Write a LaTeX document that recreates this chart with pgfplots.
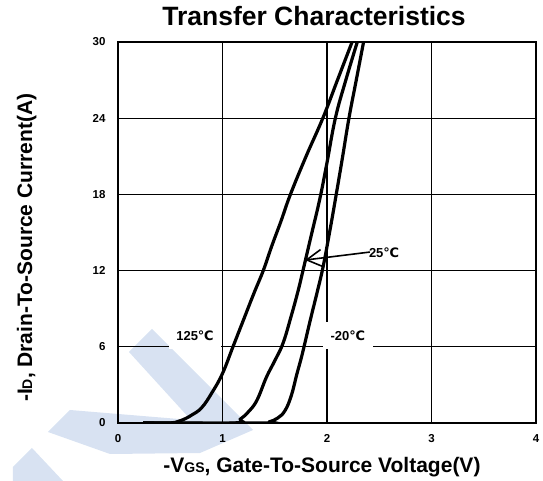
\documentclass[border=0pt]{standalone}
\usepackage{pgfplots}
\pgfplotsset{compat=1.18}
\usepackage{fontspec}
\setmainfont{Liberation Sans}
\newfontfamily\dejavu{DejaVu Sans}
\usetikzlibrary{arrows.meta}
\definecolor{wm}{RGB}{216,226,242}
\newcommand{\degC}{{\dejavu\bfseries ℃}}

\begin{document}
\begin{tikzpicture}
\useasboundingbox (-118pt,-58pt) rectangle (425pt,423pt);
% watermark (decoration)
\begin{scope}[x=1pt,y=1pt,shift={(-118pt,423pt)},yscale=-1]
\fill[wm] (70,410) -- (191,420) -- (129,352) -- (152,329) -- (253,430) -- (200,453) -- (110,454) -- (48,432) -- cycle;
\fill[wm] (32,448) -- (63,481) -- (13,481) -- (13,467) -- cycle;
\end{scope}
\begin{axis}[
  at={(0,0)}, anchor=south west,
  scale only axis, width=418pt, height=381pt,
  xmin=0, xmax=4, ymin=0, ymax=30,
  xtick={0,1,2,3,4}, ytick={0,6,12,18,24,30},
  grid=major,
  major grid style={black, line width=1.2pt},
  axis line style={black, line width=1.8pt},
  major tick length=0pt,
  /pgf/number format/assume math mode=true,
  ticklabel style={font=\fontsize{11.5}{13}\selectfont\bfseries},
  yticklabel style={xshift=-9pt},
  xticklabel style={yshift=-8pt},
  title={Transfer Characteristics},
  title style={font=\fontsize{26.5}{30}\selectfont\bfseries, at={(axis description cs:0.469,1)}, anchor=base, yshift=10pt, inner sep=0pt},
  xlabel={-V{\fontsize{14}{14}\selectfont GS}, Gate-To-Source Voltage(V)},
  xlabel style={font=\fontsize{21}{24}\selectfont\bfseries, at={(axis description cs:0.488,0)}, anchor=base, yshift=-50pt, inner sep=0pt},
  ylabel={-I{\fontsize{14}{14}\selectfont D}, Drain-To-Source Current(A)},
  ylabel style={font=\fontsize{21}{24}\selectfont\bfseries, at={(axis description cs:-0.2057,0.46)}, anchor=base, inner sep=0pt},
]
% 125 C
\addplot[black, line width=3.2pt, smooth, tension=0.7] coordinates {
(0.24,0) (0.45,0) (0.55,0.05) (0.62,0.25) (0.7,0.6) (0.8,1.2) (0.9,2.4) (1.0,3.9) (1.1,6.0) (1.2,8.1) (1.3,10.2) (1.39,12) (1.47,13.9) (1.56,15.9) (1.65,18) (1.8,21) (1.96,24) (2.1,27) (2.24,30)
};
% 25 C
\addplot[black, line width=3.2pt, smooth, tension=0.7] coordinates {
(0.24,0) (1.10,0) (1.17,0.3) (1.25,0.9) (1.33,1.8) (1.42,3.6) (1.5,4.9) (1.58,6.3) (1.66,8.5) (1.72,10.3) (1.77,12) (1.85,14.8) (1.93,17.6) (2.0,20.5) (2.08,24) (2.18,27) (2.29,30)
};
% -20 C
\addplot[black, line width=3.2pt, smooth, tension=0.7] coordinates {
(0.24,0) (1.38,0) (1.45,0.1) (1.53,0.4) (1.6,1.0) (1.66,2.2) (1.71,3.8) (1.75,5.0) (1.78,6.0) (1.84,8.1) (1.90,10.1) (1.96,12.2) (2.02,14.8) (2.08,17.6) (2.15,21) (2.21,24) (2.28,27) (2.35,30)
};
\node[fill=white, minimum width=52pt, minimum height=27pt, inner sep=0pt, font=\fontsize{13}{15}\selectfont\bfseries] at (axis cs:0.737,6.9) {125\degC};
\node[fill=white, minimum width=50pt, minimum height=27pt, inner sep=0pt, font=\fontsize{13}{15}\selectfont\bfseries] at (axis cs:2.20,6.9) {-20\degC};
\node[font=\fontsize{13}{15}\selectfont\bfseries, anchor=west, inner sep=0pt] at (axis cs:2.40,13.4) {25\degC};
\draw[line width=1.6pt, -{Straight Barb[length=15pt,width=17pt]}] (axis cs:2.41,13.46) -- (axis cs:1.79,12.83);
\end{axis}
\end{tikzpicture}
\end{document}
